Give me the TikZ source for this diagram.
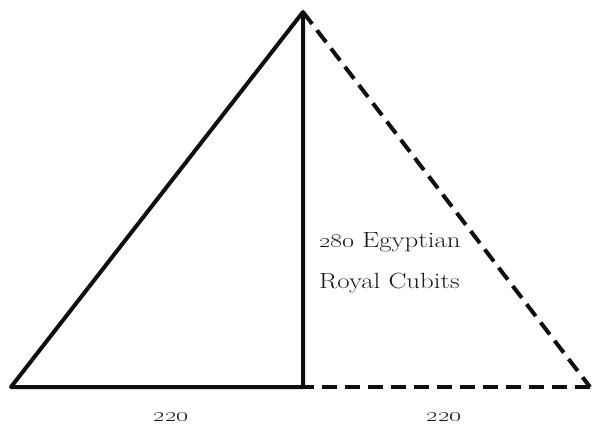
\documentclass[tikz,border=0pt]{standalone}
\usepackage{graphicx}
\usepackage{tikz}
\usetikzlibrary{positioning, calc}
\definecolor{pyrink}{RGB}{15,15,15}
\definecolor{pyrtext}{RGB}{25,25,25}
\newcommand{\pyrwide}[1]{\scalebox{1.22}[1]{#1}}
\tikzset{
  pyrline/.style={pyrink, line width=4pt, line cap=round, line join=round},
  pyrdash/.style={pyrink, line width=4pt, dash pattern=on 15pt off 8pt},
  pyrlbl/.style={pyrtext, font=\fontsize{22}{26}\selectfont, inner sep=0pt}
}

\begin{document}
\begin{tikzpicture}[x=1pt, y=1pt]
% canvas
\useasboundingbox (0,0) rectangle (596,423);
\fill[white] (0,0) rectangle (596,423);

% corners
\coordinate (apex) at (303,411);
\coordinate (bl)   at (11,36);
\coordinate (bm)   at (303,36);
\coordinate (br)   at (590,36);

% solid half
\draw[pyrline] (bm) -- (bl) -- (apex) -- (bm);

% dashed half
\draw[pyrdash] (apex) -- (br);
\draw[pyrdash] (br) -- (bm);

% labels
\node[pyrlbl, anchor=base west] (hgt1) at (319,175) {\pyrwide{\oldstylenums{280} Egyptian}};
\node[pyrlbl, anchor=base west] (hgt2) at (319,135) {\pyrwide{Royal Cubits}};
\node[pyrlbl, anchor=base] (lft) at (171,2) {\pyrwide{\oldstylenums{220}}};
\node[pyrlbl, anchor=base] (rgt) at (444,2) {\pyrwide{\oldstylenums{220}}};
\end{tikzpicture}
\end{document}
